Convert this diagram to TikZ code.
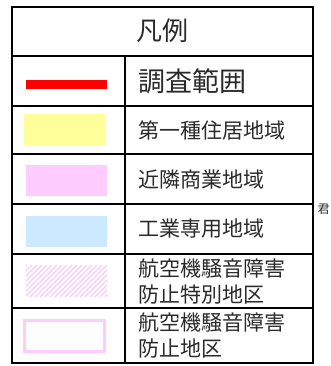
\documentclass[tikz,border=0pt]{standalone}
\usepackage{fontspec}
\newfontfamily\jp{Noto Sans CJK JP}
\definecolor{zoneyellow}{HTML}{FFFF99}
\definecolor{zonepink}{HTML}{FFCCFF}
\definecolor{zoneblue}{HTML}{CCE9FF}
\definecolor{hatchpink}{HTML}{F5CCF5}
\definecolor{textgray}{HTML}{2A2A2A}
\tikzset{
  grid/.style={line width=2pt, black, line cap=rect},
  lbl/.style={anchor=west, inner sep=0pt, font=\jp\fontsize{21}{26}\selectfont, text=textgray, align=left},
}
\begin{document}
\begin{tikzpicture}[x=1pt,y=-1pt]
\useasboundingbox (0,0) rectangle (331,366);
\fill[white] (0,0) rectangle (331,366);
% swatches
\fill[red] (26,80) rectangle (107,89);
\fill[zoneyellow] (24,114) rectangle (105,145);
\fill[zonepink] (26,165) rectangle (107,196);
\fill[zoneblue] (26,216) rectangle (107,247);
\begin{scope}
  \clip (26,265) rectangle (107,297);
  \foreach \i in {-40,-35,...,120} {
    \draw[hatchpink, line width=1.3pt] (\i,297) -- ++(32,-32);
  }
\end{scope}
\draw[zonepink, line width=3pt] (24.5,320.5) rectangle (104.5,351.5);
% grid
\draw[grid] (12,7) rectangle (313,363);
\foreach \yy in {56,106,154,204,254,308} { \draw[grid] (12,\yy) -- (313,\yy); }
\draw[grid] (125,56) -- (125,363);
% texts
\node[inner sep=0pt, font=\jp\fontsize{26}{30}\selectfont, text=textgray] (title) at (162,31) {凡例};
\node[lbl, font=\jp\fontsize{27}{30}\selectfont] (t1) at (138,81) {調査範囲};
\node[lbl] (t2) at (138,130) {第一種住居地域};
\node[lbl] (t3) at (138,180) {近隣商業地域};
\node[lbl] (t4) at (138,229) {工業専用地域};
\node[lbl] (t5) at (138,282) {航空機騒音障害\\防止特別地区};
\node[lbl] (t6) at (138,336) {航空機騒音障害\\防止地区};
\node[inner sep=0pt, font=\jp\fontsize{12}{12}\selectfont, text=textgray] (edge) at (323.5,209) {君};
\end{tikzpicture}
\end{document}
